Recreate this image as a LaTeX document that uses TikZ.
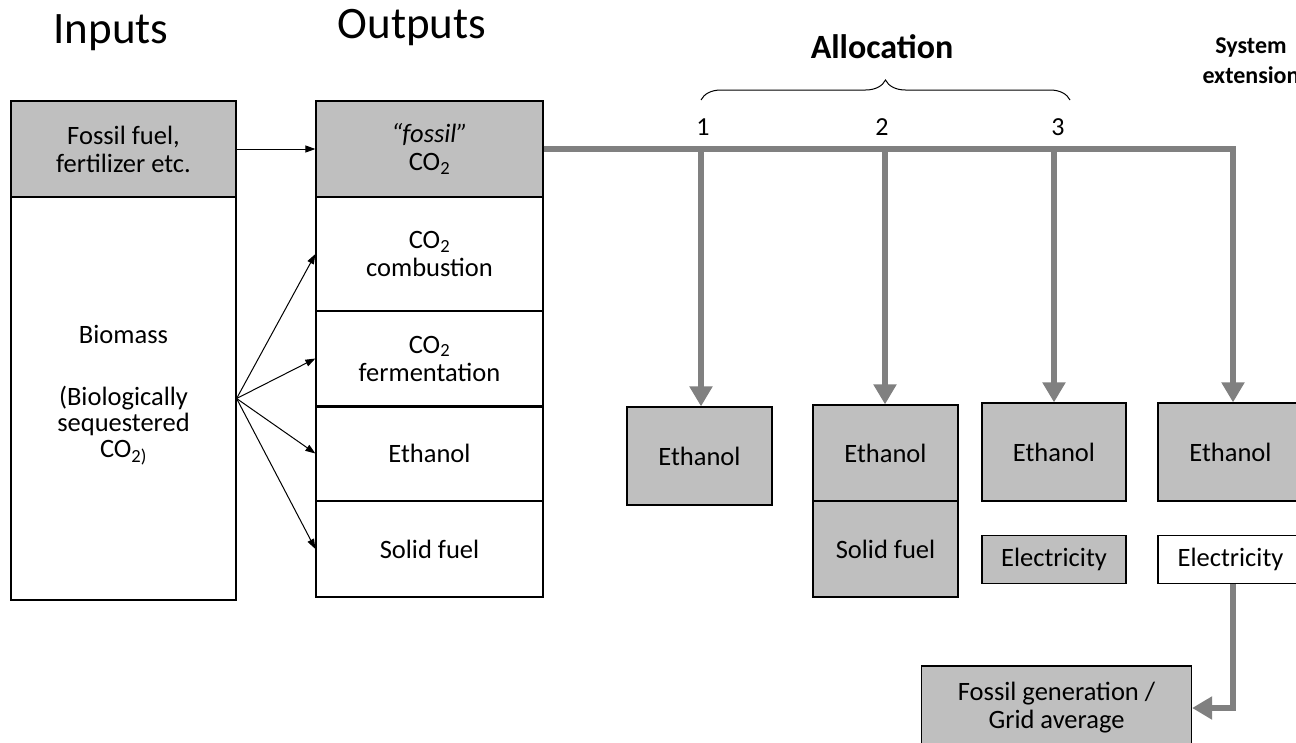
\documentclass[tikz,border=0pt]{standalone}
\usepackage{fontspec}
\setmainfont{Carlito}
\usetikzlibrary{arrows.meta,decorations.pathreplacing}

\definecolor{boxgray}{RGB}{191,191,191}
\definecolor{flowgray}{RGB}{128,128,128}

\tikzset{
  box/.style={draw=black, line width=1.2pt, rectangle, inner sep=0pt, align=center,
    font=\fontsize{26.5}{28}\selectfont},
  shaded/.style={box, fill=boxgray},
  flow/.style={draw=flowgray, line width=6pt, line join=miter,
    -{Triangle[length=20pt,width=22pt]}},
  thin/.style={draw=black, line width=1pt, -{Triangle[length=10pt,width=7pt]}}
}

\begin{document}
\begin{tikzpicture}[x=1pt,y=-1pt]
\useasboundingbox (0,0) rectangle (1296,742);
\clip (0,0) rectangle (1296,742);

% headings
\node[font=\fontsize{45}{48}\selectfont] (inputs) at (111,33) {Inputs};
\node[font=\fontsize{45}{48}\selectfont] (outputs) at (412,28) {Outputs};
\node[font=\fontsize{34}{36}\bfseries] (alloc) at (882,47) {Allocation};
\node[font=\fontsize{24}{30}\bfseries, align=center] (sysext) at (1251,61) {System\\extension};

% inputs column
\node[shaded, minimum width=225pt, minimum height=96pt] (fossilin) at (123.5,149) {Fossil fuel,\\fertilizer etc.};
\node[box, minimum width=225pt, minimum height=403pt] (biomass) at (123.5,398.5) {};
\node[align=center, inner sep=0pt, font=\fontsize{26.5}{26}\selectfont] (biotext) at (123.5,395)
  {Biomass\\[36pt](Biologically\\sequestered\\CO\textsubscript{2)}};

% outputs column
\node[shaded, minimum width=227pt, minimum height=96pt] (fossilco2) at (429.5,149) {\textit{“fossil”}\\CO\textsubscript{2}};
\node[box, minimum width=227pt, minimum height=114pt] (co2comb) at (429.5,254) {CO\textsubscript{2}\\combustion};
\node[box, minimum width=227pt, minimum height=95pt] (co2ferm) at (429.5,358.5) {CO\textsubscript{2}\\fermentation};
\node[box, minimum width=227pt, minimum height=95pt] (ethout) at (429.5,453.5) {Ethanol};
\node[box, minimum width=227pt, minimum height=96pt] (solidout) at (429.5,549) {Solid fuel};
\draw[line width=2pt] (co2ferm.south west) -- (co2ferm.south east);

\draw[thin] (fossilin.east) -- (fossilco2.west);
\foreach \t in {co2comb,co2ferm,ethout,solidout}
  \draw[thin] (biomass.east) -- (\t.west);

% results
\node[shaded, minimum width=145pt, minimum height=98pt] (eth1) at (699.5,456) {Ethanol};
\node[shaded, minimum width=145pt, minimum height=96pt] (eth2) at (885.5,453) {Ethanol};
\node[shaded, minimum width=145pt, minimum height=96pt] (solid2) at (885.5,549) {Solid fuel};
\node[shaded, minimum width=144pt, minimum height=98pt] (eth3) at (1054,452) {Ethanol};
\node[shaded, minimum width=144pt, minimum height=48pt] (elec3) at (1054,559.5) {Electricity};
\node[shaded, minimum width=145pt, minimum height=98pt] (eth4) at (1230.5,452) {Ethanol};
\node[box, fill=white, minimum width=145pt, minimum height=48pt] (elec4) at (1230.5,559.5) {Electricity};
\node[shaded, minimum width=270pt, minimum height=84pt] (fossgen) at (1056.5,708) {Fossil generation /\\Grid average};

% branch points
\coordinate (b1) at (701,149);
\coordinate (b2) at (885,149);
\coordinate (b3) at (1054,149);
\coordinate (b4) at (1233,149);

\draw[flow] (fossilco2.east) -- (b4) -- (b4 |- eth4.north);
\draw[flow] (b1) -- (b1 |- eth1.north);
\draw[flow] (b2) -- (b2 |- eth2.north);
\draw[flow] (b3) -- (b3 |- eth3.north);
\draw[flow] (b4 |- elec4.south) |- (fossgen.east);

\node[font=\fontsize{26}{28}\selectfont] (n1) at (703,127) {1};
\node[font=\fontsize{26}{28}\selectfont] (n2) at (882,127) {2};
\node[font=\fontsize{26}{28}\selectfont] (n3) at (1058,127) {3};

\draw[line width=1pt, decorate, decoration={brace, amplitude=20pt, aspect=0.5}]
  (701,100) -- (1070,100);
\end{tikzpicture}
\end{document}
